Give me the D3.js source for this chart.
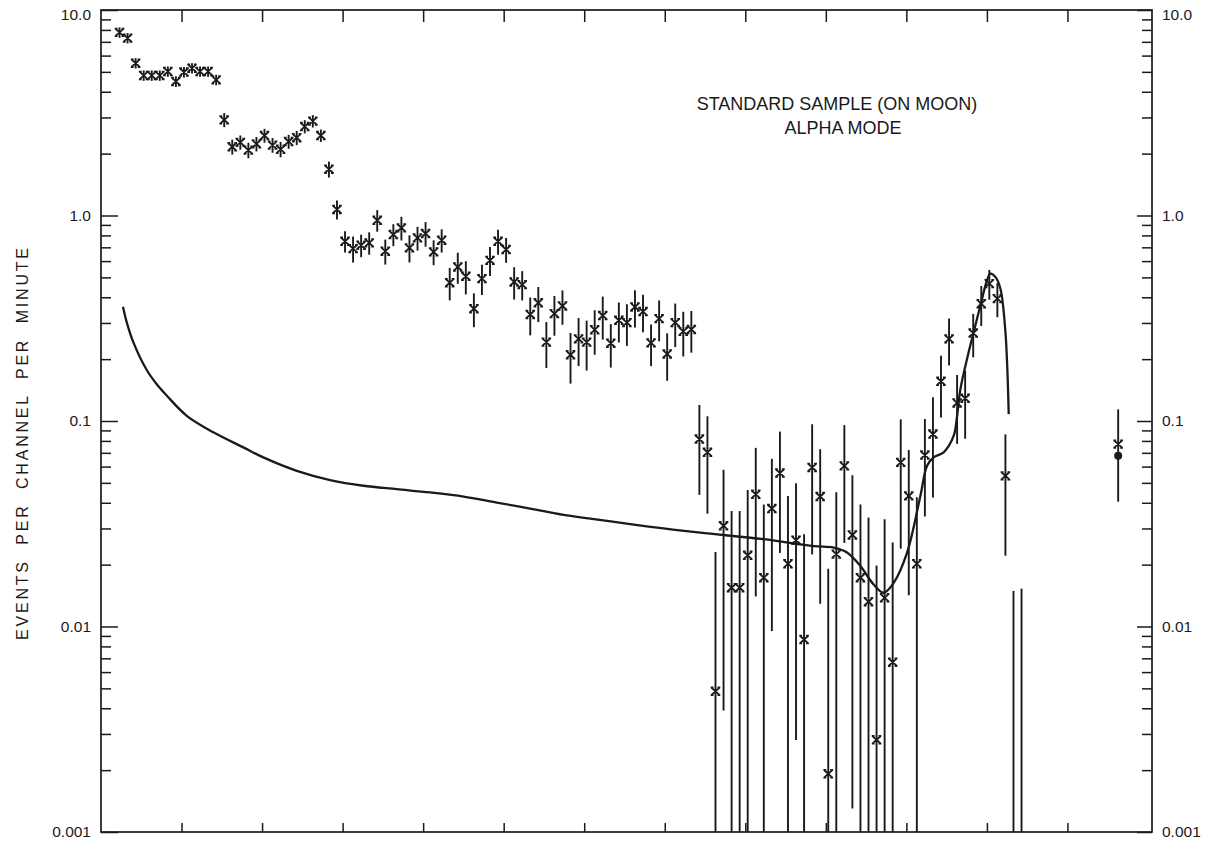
<!DOCTYPE html>
<html>
<head>
<meta charset="utf-8">
<title>Standard sample (on Moon) - alpha mode</title>
<script src="https://d3js.org/d3.v7.min.js"></script>
<style>
  body { margin: 0; background: #fff; }
  text { font-family: "Liberation Sans", Arial, sans-serif; fill: #1a1a1a; }
  .axis line { stroke: #1a1a1a; stroke-width: 1.5; }
  .axis path { display: none; }
  .axis text { font-size: 15.5px; }
</style>
</head>
<body>
<svg width="1215" height="842"></svg>
<script>
// channel numbers of the measured points
const channels = [
  2, 3, 4, 5, 6, 7, 8, 9, 10, 11, 12, 13, 14, 15, 16, 17, 18, 19, 20, 21,
  22, 23, 24, 25, 26, 27, 28, 29, 30, 31, 32, 33, 34, 35, 36, 37, 38, 39, 40, 41,
  42, 43, 44, 45, 46, 47, 48, 49, 50, 51, 52, 53, 54, 55, 56, 57, 58, 59, 60, 61,
  62, 63, 64, 65, 66, 67, 68, 69, 70, 71, 72, 73,
  74, 75, 76, 77, 78, 79, 80, 81, 82, 83, 84, 85, 86, 87, 88, 89, 90, 91, 92, 93,
  94, 95, 96, 97, 98, 99, 100, 101, 102, 103, 104, 105, 106, 107, 108, 109, 110, 111, 112, 113,
  114, 126
];
// events per channel per minute (0 = no point, only the upper limit is drawn)
const rates = [
  7.78, 7.30, 5.51, 4.80, 4.80, 4.80, 5.02, 4.49, 4.99, 5.21, 5.02, 5.02, 4.57, 2.92, 2.16, 2.27, 2.08, 2.23, 2.45, 2.20,
  2.10, 2.29, 2.39, 2.71, 2.88, 2.45, 1.68, 1.07, 0.749, 0.690, 0.717, 0.736, 0.948, 0.670, 0.808, 0.871, 0.696, 0.778, 0.817, 0.665,
  0.758, 0.471, 0.562, 0.506, 0.352, 0.493, 0.605, 0.749, 0.683, 0.475, 0.461, 0.330, 0.376, 0.242, 0.333, 0.363, 0.210, 0.251, 0.242, 0.278,
  0.326, 0.239, 0.309, 0.301, 0.359, 0.341, 0.240, 0.315, 0.212, 0.301, 0.273, 0.279,
  0.0817, 0.0704, 0.00484, 0.0309, 0.01545, 0.01545, 0.0222, 0.0440, 0.01728, 0.0375, 0.0558, 0.0202, 0.0263, 0.00864, 0.0594, 0.0429, 0.00192, 0.0225, 0.0605, 0.0279,
  0.01728, 0.0132, 0.00281, 0.0138, 0.0067, 0.0629, 0.0432, 0.0202, 0.0683, 0.0864, 0.156, 0.251, 0.1224, 0.129, 0.268, 0.372, 0.466, 0.394, 0.0541, 0,
  0, 0.0772
];
// one-sigma errors
const errors = [
  0.45, 0.42, 0.32, 0.28, 0.28, 0.28, 0.29, 0.27, 0.29, 0.30, 0.29, 0.29, 0.27, 0.23, 0.18, 0.18, 0.18, 0.18, 0.19, 0.18,
  0.18, 0.18, 0.19, 0.20, 0.20, 0.17, 0.15, 0.113, 0.089, 0.100, 0.090, 0.092, 0.114, 0.093, 0.099, 0.115, 0.105, 0.103, 0.112, 0.092,
  0.098, 0.085, 0.097, 0.093, 0.066, 0.083, 0.098, 0.104, 0.094, 0.085, 0.075, 0.069, 0.073, 0.061, 0.073, 0.069, 0.058, 0.066, 0.066, 0.068,
  0.077, 0.057, 0.068, 0.069, 0.074, 0.071, 0.055, 0.071, 0.055, 0.072, 0.067, 0.064,
  0.038, 0.035, 0.0182, 0.027, 0.021, 0.021, 0.024, 0.030, 0.022, 0.028, 0.033, 0.023, 0.0235, 0.0195, 0.037, 0.030, 0.0172, 0.0225, 0.035, 0.0266,
  0.022, 0.0207, 0.017, 0.0195, 0.0189, 0.039, 0.029, 0.0224, 0.034, 0.044, 0.052, 0.0645, 0.045, 0.047, 0.064, 0.082, 0.077, 0.074, 0.032, 0.0149,
  0.0153, 0.0367
];

// fitted curve (channel, rate)
const curveChannels = [
  2.73, 3.19, 4.01, 5.68, 6.92, 8.16, 10.65, 13.95, 17.68, 20.16, 24.31, 28.45, 32.58, 36.73, 40.87, 45.01, 49.14,
  53.29, 57.43, 60.75, 65.71, 69.85, 74.41, 82.27, 88.48, 90.97, 92.63, 94.29, 95.94, 97.18, 98.42, 100.09,
  101.74, 102.57, 103.39, 104.63, 105.88, 106.30, 106.71, 107.54, 108.36, 109.19, 110.02, 110.43, 111.06,
  111.68, 112.30, 112.71
];
const curveRates = [
  0.360, 0.303, 0.242, 0.177, 0.151, 0.133, 0.106, 0.0881, 0.0744, 0.0665, 0.0572, 0.0516, 0.0484, 0.0466, 0.0449, 0.0429, 0.0401,
  0.0375, 0.0349, 0.0335, 0.0315, 0.0300, 0.0286, 0.0266, 0.0246, 0.0242, 0.0229, 0.0197, 0.0160, 0.0146, 0.0163, 0.0229,
  0.0432, 0.0605, 0.0665, 0.0704, 0.0848, 0.106, 0.143, 0.201, 0.271, 0.365, 0.484, 0.521, 0.502,
  0.440, 0.271, 0.108
];

// single reference value drawn as a filled dot
const dotChannel = 126;
const dotRate = 0.0677;

const yMajor = [0.001, 0.01, 0.1, 1, 10];
const yMajorLabels = ["0.001", "0.01", "0.1", "1.0", "10.0"];
const yMinor = [0.001, 0.01, 0.1, 1].flatMap(d => [2, 3, 4, 5, 6, 7, 8, 9].map(k => +(d * k).toPrecision(2)));
const xTicks = [10, 20, 30, 40, 50, 60, 70, 80, 90, 100, 110, 120];

const svg = d3.select("svg");
const plotLeft = 101, plotRight = 1152, plotTop = 10, plotBottom = 832;

const x = d3.scaleLinear().domain([0, 130.5]).range([plotLeft, plotRight]);
const y = d3.scaleLog().domain([0.001, 10]).range([plotBottom, plotTop]).clamp(true);
const binOffset = 0.3;

const points = channels.map((c, i) => ({ ch: c, rate: rates[i], err: errors[i] }));

// frame
svg.append("rect")
  .attr("x", plotLeft).attr("y", plotTop)
  .attr("width", plotRight - plotLeft).attr("height", plotBottom - plotTop)
  .attr("fill", "none").attr("stroke", "#1a1a1a").attr("stroke-width", 1.7);

// y axes, ticks pointing inwards
const fmt = d => yMajorLabels[yMajor.indexOf(d)];
const leftMajor = svg.append("g").attr("class", "axis")
  .attr("transform", `translate(${plotLeft},0)`)
  .call(d3.axisLeft(y).tickValues(yMajor).tickFormat(fmt).tickSize(-17).tickPadding(10));
svg.append("g").attr("class", "axis")
  .attr("transform", `translate(${plotLeft},0)`)
  .call(d3.axisLeft(y).tickValues(yMinor).tickFormat("").tickSize(-10));
const rightMajor = svg.append("g").attr("class", "axis")
  .attr("transform", `translate(${plotRight},0)`)
  .call(d3.axisRight(y).tickValues(yMajor).tickFormat(fmt).tickSize(-15).tickPadding(10));
svg.append("g").attr("class", "axis")
  .attr("transform", `translate(${plotRight},0)`)
  .call(d3.axisRight(y).tickValues(yMinor).tickFormat("").tickSize(-10));
[leftMajor, rightMajor].forEach(g =>
  g.selectAll(".tick text").filter(d => d === 10).attr("dy", "0.6em"));

// x axes, no labels
svg.append("g").attr("class", "axis")
  .attr("transform", `translate(0,${plotBottom})`)
  .call(d3.axisBottom(x).tickValues(xTicks).tickFormat("").tickSize(-9));
svg.append("g").attr("class", "axis")
  .attr("transform", `translate(0,${plotTop})`)
  .call(d3.axisTop(x).tickValues(xTicks).tickFormat("").tickSize(-12));

// fitted curve
const line = d3.line()
  .x(d => x(d[0]))
  .y(d => y(d[1]))
  .curve(d3.curveCatmullRom.alpha(0.5));
svg.append("path")
  .datum(curveChannels.map((c, i) => [c, curveRates[i]]))
  .attr("d", line)
  .attr("fill", "none")
  .attr("stroke", "#1a1a1a")
  .attr("stroke-width", 2.3);

// error bars
svg.append("g").selectAll("line")
  .data(points)
  .join("line")
  .attr("x1", d => x(d.ch + binOffset))
  .attr("x2", d => x(d.ch + binOffset))
  .attr("y1", d => y(d.rate + d.err))
  .attr("y2", d => y(Math.max(d.rate - d.err, 1e-5)))
  .attr("stroke", "#1a1a1a")
  .attr("stroke-width", 1.9);

// x markers
const marker = "M-4.2,-3.8L4.2,3.8M4.2,-3.8L-4.2,3.8M-4.8,-3.8H-2M2,-3.8H4.8M-4.8,3.8H-2M2,3.8H4.8";
svg.append("g").selectAll("path")
  .data(points.filter(d => d.rate > 0))
  .join("path")
  .attr("transform", d => `translate(${x(d.ch + binOffset)},${y(d.rate)})`)
  .attr("d", marker)
  .attr("fill", "none")
  .attr("stroke", "#1a1a1a")
  .attr("stroke-width", 1.8);

svg.append("circle")
  .attr("cx", x(dotChannel + binOffset))
  .attr("cy", y(dotRate))
  .attr("r", 4)
  .attr("fill", "#1a1a1a");

// labels
svg.append("text")
  .attr("transform", `translate(22,${(plotTop + plotBottom) / 2 + 23}) rotate(-90)`)
  .attr("text-anchor", "middle")
  .attr("dy", "0.35em")
  .attr("textLength", 392)
  .attr("lengthAdjust", "spacing")
  .style("font-size", "16px")
  .style("white-space", "pre")
  .text("EVENTS  PER  CHANNEL  PER  MINUTE");

const note = svg.append("g").attr("text-anchor", "middle").style("font-size", "18px");
note.append("text").attr("x", 837).attr("y", 110).text("STANDARD SAMPLE (ON MOON)");
note.append("text").attr("x", 843).attr("y", 134).text("ALPHA MODE");
</script>
</body>
</html>
